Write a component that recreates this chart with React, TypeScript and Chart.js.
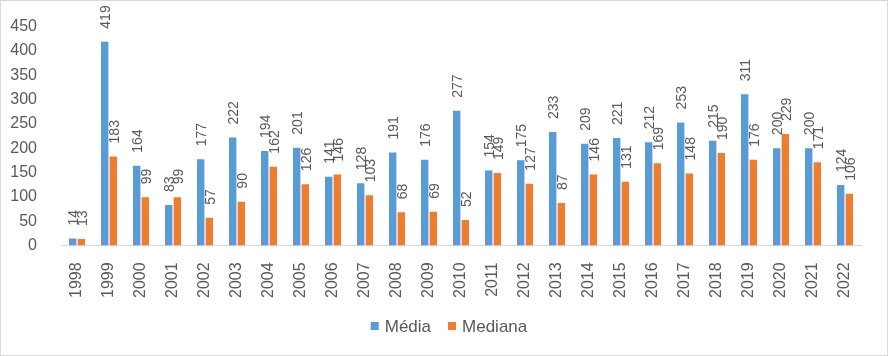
import React, { useEffect, useRef } from "react";
import { Chart, registerables } from "chart.js";

Chart.register(...registerables);

const years = ["1998","1999","2000","2001","2002","2003","2004","2005","2006","2007","2008","2009","2010","2011","2012","2013","2014","2015","2016","2017","2018","2019","2020","2021","2022"];
const media = [14,419,164,83,177,222,194,201,141,128,191,176,277,154,175,233,209,221,212,253,215,311,200,200,124];
const mediana = [13,183,99,99,57,90,162,126,146,103,68,69,52,149,127,87,146,131,169,148,190,176,229,171,106];

const FONT = "'Liberation Sans', Arial, sans-serif";
const TEXT = "#595959";

const labelPlugin = {
  id: "barLabels",
  afterDatasetsDraw(chart: any) {
    const ctx = chart.ctx;
    ctx.save();
    ctx.fillStyle = TEXT;
    ctx.font = `14px ${FONT}`;
    ctx.textAlign = "left";
    ctx.textBaseline = "middle";
    chart.data.datasets.forEach((ds: any, di: number) => {
      const meta = chart.getDatasetMeta(di);
      meta.data.forEach((el: any, i: number) => {
        ctx.save();
        ctx.translate(el.x + 1.5, el.y - 13);
        ctx.rotate(-Math.PI / 2);
        ctx.fillText(String(ds.data[i]), 0, 0);
        ctx.restore();
      });
    });
    ctx.restore();
  },
};

const legendPlugin = {
  id: "customLegend",
  afterDraw(chart: any) {
    const ctx = chart.ctx;
    ctx.save();
    ctx.font = `17px ${FONT}`;
    ctx.textBaseline = "middle";
    ctx.textAlign = "left";
    const items = chart.data.datasets.map((d: any) => ({ label: d.label, color: d.backgroundColor }));
    const box = 8, gapBox = 6, gapItem = 17;
    const widths = items.map((it: any) => box + gapBox + ctx.measureText(it.label).width);
    const total = widths.reduce((a: number, b: number) => a + b, 0) + gapItem * (items.length - 1);
    let x = 448 - total / 2;
    const y = 325;
    items.forEach((it: any, i: number) => {
      ctx.fillStyle = it.color;
      ctx.fillRect(x, y - box / 2, box, box);
      ctx.fillStyle = TEXT;
      ctx.fillText(it.label, x + box + gapBox, y + 1);
      x += widths[i] + gapItem;
    });
    ctx.restore();
  },
};

export default function App() {
  const ref = useRef<HTMLCanvasElement | null>(null);
  useEffect(() => {
    document.body.style.margin = "0";
    const chart = new Chart(ref.current!, {
      type: "bar",
      data: {
        labels: years,
        datasets: [
          { label: "Média", data: media, backgroundColor: "#5B9BD5", categoryPercentage: 0.54, barPercentage: 0.86 },
          { label: "Mediana", data: mediana, backgroundColor: "#ED7D31", categoryPercentage: 0.54, barPercentage: 0.86 },
        ],
      },
      options: {
        animation: false,
        responsive: false,
        maintainAspectRatio: false,
        layout: { padding: { top: 19, right: 26, left: 0, bottom: 48 } },
        plugins: {
          legend: { display: false },
          tooltip: { enabled: false },
        },
        scales: {
          x: {
            grid: { display: false },
            border: { color: "#d9d9d9" },
            ticks: { color: TEXT, font: { size: 16, family: FONT }, minRotation: 90, maxRotation: 90, autoSkip: false, padding: 9 },
          },
          y: {
            min: 0,
            max: 450,
            grid: { display: false },
            border: { display: false },
            ticks: { stepSize: 50, color: TEXT, font: { size: 16, family: FONT }, padding: 16 },
            afterFit(scale: any) { scale.width = 60; },
          },
        },
      },
      plugins: [labelPlugin, legendPlugin],
    });
    return () => chart.destroy();
  }, []);
  return (
    <div style={{ width: 888, height: 356, boxSizing: "border-box", border: "1px solid #d9d9d9" }}>
      <canvas ref={ref} width={886} height={354} style={{ display: "block" }} />
    </div>
  );
}
